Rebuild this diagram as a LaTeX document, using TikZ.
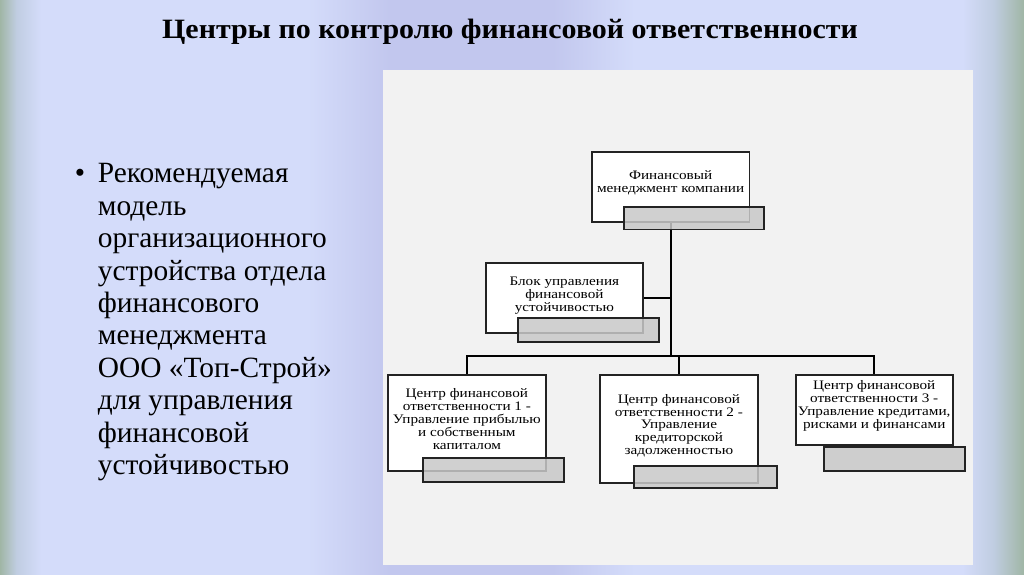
\documentclass[tikz,border=0pt]{standalone}
\usepackage{fontspec}
\setmainfont{Liberation Serif}
\newfontfamily\titlefont[FakeStretch=1.07]{Liberation Serif}
\newfontfamily\boxfont[FakeStretch=1.17]{Liberation Serif}
\usetikzlibrary{positioning}
\definecolor{slgreen}{RGB}{160,182,165}
\definecolor{sledge}{RGB}{192,205,225}
\definecolor{sllav}{RGB}{212,220,250}
\definecolor{sldark}{RGB}{194,199,238}
\definecolor{panelgray}{RGB}{242,242,242}
\definecolor{frameline}{RGB}{35,35,35}
\definecolor{shadegray}{RGB}{200,200,200}
\pgfdeclarehorizontalshading{slidebg}{100bp}{color(0bp)=(slgreen); color(25bp)=(slgreen);
  color(25.8bp)=(sledge); color(27bp)=(sllav); color(40bp)=(sllav); color(44bp)=(sldark);
  color(52bp)=(sldark); color(56bp)=(sllav); color(72bp)=(sllav); color(73.5bp)=(sledge); color(75bp)=(slgreen); color(100bp)=(slgreen)}

\begin{document}
\begin{tikzpicture}[x=1pt, y=-1pt, line width=1.8pt,
    box/.style={draw=frameline, fill=white, inner sep=0pt},
    boxtext/.style={align=center, font=\boxfont\fontsize{13}{12.9}\selectfont, inner sep=0pt},
    shadowbar/.style={draw=frameline, fill=shadegray, fill opacity=0.85, line width=1.8pt},
    link/.style={draw=black, line width=2pt}]
  % slide background and panel
  \shade[shading=slidebg] (0,0) rectangle (1024,574);
  \useasboundingbox (0,0) rectangle (1024,574);
  \fill[panelgray] (383,70) rectangle (973,565);

  % title and bullet text
  \node[font=\titlefont\fontsize{28}{30}\selectfont\bfseries, anchor=base] (title) at (510,38.3) {Центры по контролю финансовой ответственности};
  \node[font=\fontsize{29.4}{32.4}\selectfont, anchor=base] (dot) at (80,182) {•};
  \node[font=\fontsize{29.4}{32.4}\selectfont, align=left, anchor=north west, inner sep=0pt] (note) at (97,162.7)
    {Рекомендуемая\\модель\\организационного\\устройства отдела\\финансового\\менеджмента\\ООО «Топ-Строй»\\для управления\\финансовой\\устойчивостью};

  % boxes of the structure
  \node[box, minimum width=157.8pt, minimum height=70pt] (fin) at (670.6,186.7) {};
  \node[box, minimum width=157.3pt, minimum height=69.7pt] (blk) at (564.4,298.2) {};
  \node[box, minimum width=157.7pt, minimum height=95.7pt] (cf1) at (466.9,422.9) {};
  \node[box, minimum width=157.7pt, minimum height=108.3pt] (cf2) at (678.9,429.2) {};
  \node[box, minimum width=157pt, minimum height=70pt] (cf3) at (874.2,410) {};

  % links
  \draw[link] (cf1.north) -- ++(0,-18) coordinate (bus) -| (cf3.north);
  \draw[link] (fin.south) -- (fin.south |- bus);
  \draw[link] (blk.east) -- (blk.east -| fin.south);
  \draw[link] (cf2.north) -- (cf2.north |- bus);

  % grey bars under the boxes
  \foreach \xa/\ya/\xb/\yb in {624/207/764/229.5, 517.7/318/659/341.7, 423/457.7/564/481.7,
      634/466/776.7/488.3, 824.3/447.3/965/471}{
    \filldraw[shadowbar] (\xa,\ya) rectangle (\xb,\yb);
  }

  % box texts
  \node[boxtext] (fintext) at ([yshift=3.7pt]fin.center) {Финансовый\\менеджмент компании};
  \node[boxtext] (blktext) at ([yshift=2.5pt]blk.center) {Блок управления\\финансовой\\устойчивостью};
  \node[boxtext] (cf1text) at ([yshift=4pt]cf1.center) {Центр финансовой\\ответственности 1 -\\Управление прибылью\\и собственным\\капиталом};
  \node[boxtext] (cf2text) at ([yshift=3.5pt]cf2.center) {Центр финансовой\\ответственности 2 -\\Управление\\кредиторской\\задолженностью};
  \node[boxtext] (cf3text) at ([yshift=4pt]cf3.center) {Центр финансовой\\ответственности 3 -\\Управление кредитами,\\рисками и финансами};
\end{tikzpicture}
\end{document}
